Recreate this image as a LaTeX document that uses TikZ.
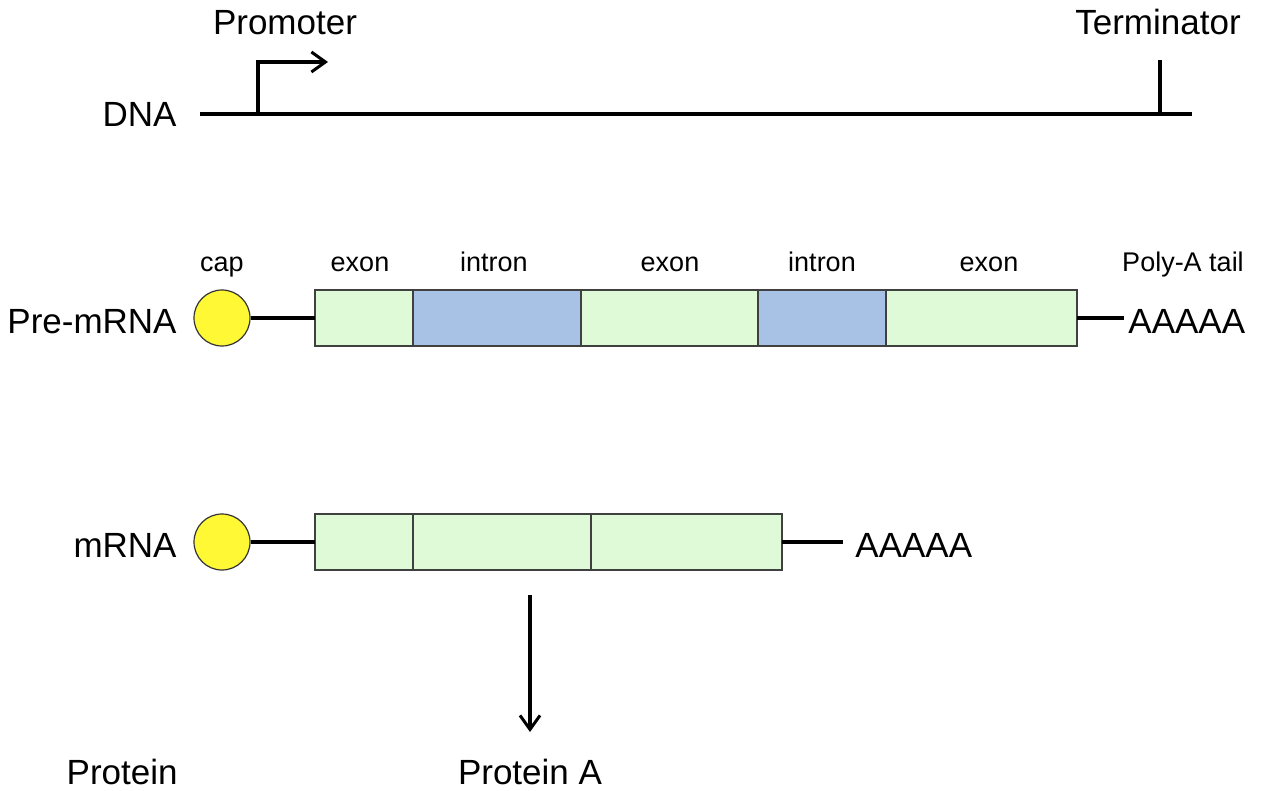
\documentclass[tikz,border=0pt]{standalone}
\usepackage{fontspec}
\setmainfont{Liberation Sans}
\usetikzlibrary{positioning,arrows.meta,calc}
\tikzset{>={Straight Barb[length=7pt,width=10pt,line width=1.5pt]}}
\tikzset{
  big/.style={font=\fontsize{17.5}{20}\selectfont, inner sep=0pt},
  small/.style={font=\fontsize{13.5}{16}\selectfont, inner sep=0pt},
  strand/.style={line width=1.6pt},
  seg/.style={draw=black!75, line width=0.6pt, minimum height=28pt, inner sep=0pt, outer sep=0pt, anchor=west},
  exon/.style={seg, fill=exongreen},
  intron/.style={seg, fill=intronblue},
  capball/.style={circle, draw=black!80, line width=0.6pt, fill=capyellow, minimum size=28pt, inner sep=0pt},
}
\definecolor{exongreen}{HTML}{DFFAD6}
\definecolor{intronblue}{HTML}{A8C2E6}
\definecolor{capyellow}{HTML}{FFF935}

\begin{document}
\begin{tikzpicture}[x=0.5pt, y=-0.5pt]
      \useasboundingbox (0,0) rectangle (1280,791);
      % DNA
      \coordinate (dnaL) at (200,114);
      \coordinate (dnaR) at (1192,114);
      \coordinate (prom) at (258,114);
      \coordinate (promtip) at (328,62);
      \coordinate (term) at (1160,114);
      \coordinate (termtop) at (1160,60);
      \node[big, anchor=base east] (dna) at (177,127) {DNA};
      \node[big, anchor=base] (promoter) at (285,35) {Promoter};
      \node[big, anchor=base] (terminator) at (1158,35) {Terminator};
      \draw[strand] (dnaL) -- (dnaR);
      \draw[strand, ->, line cap=butt] (prom) |- (promtip);
      \draw[strand] (term) -- (termtop);
      % pre-mRNA
      \node[big, anchor=base east] (pre) at (177,334) {Pre-mRNA};
      \node[capball] (cap1) at (222,318) {};
      \node[exon, minimum width=49pt] (p1) at (315,318) {};
      \node[intron, minimum width=84pt] (p2) at (p1.east) {};
      \node[exon, minimum width=88.5pt] (p3) at (p2.east) {};
      \node[intron, minimum width=64pt] (p4) at (p3.east) {};
      \node[exon, minimum width=95.5pt] (p5) at (p4.east) {};
      \node[big, anchor=base west, inner sep=2pt] (tail1) at (1124,334) {AAAAA};
      \draw[strand] (cap1) -- (p1);
      \draw[strand] (p5.east) -- (tail1.west |- p5.east);
      \node[small, anchor=base] at (222,272) {cap};
      \node[small, anchor=base] at (360,272) {exon};
      \node[small, anchor=base] at (494,272) {intron};
      \node[small, anchor=base] at (670,272) {exon};
      \node[small, anchor=base] at (822,272) {intron};
      \node[small, anchor=base] at (989,272) {exon};
      \node[small, anchor=base] at (1183,272) {Poly-A tail};
      % mRNA
      \node[big, anchor=base east] (mrna) at (177,557) {mRNA};
      \node[capball] (cap2) at (222,542) {};
      \node[exon, minimum width=49pt] (m1) at (315,542) {};
      \node[exon, minimum width=89pt] (m2) at (m1.east) {};
      \node[exon, minimum width=95.5pt] (m3) at (m2.east) {};
      \node[big, anchor=base west, inner sep=6pt] (tail2) at (843,557) {AAAAA};
      \draw[strand] (cap2) -- (m1);
      \draw[strand] (m3.east) -- (tail2.west |- m3.east);
      % protein
      \node[big, anchor=base] (protA) at (530,784) {Protein A};
      \node[big, anchor=base east] (prot) at (178,784) {Protein};
      \coordinate (transl) at (530,595);
      \draw[strand, ->] (transl) -- ++(0,137);
\end{tikzpicture}
\end{document}
